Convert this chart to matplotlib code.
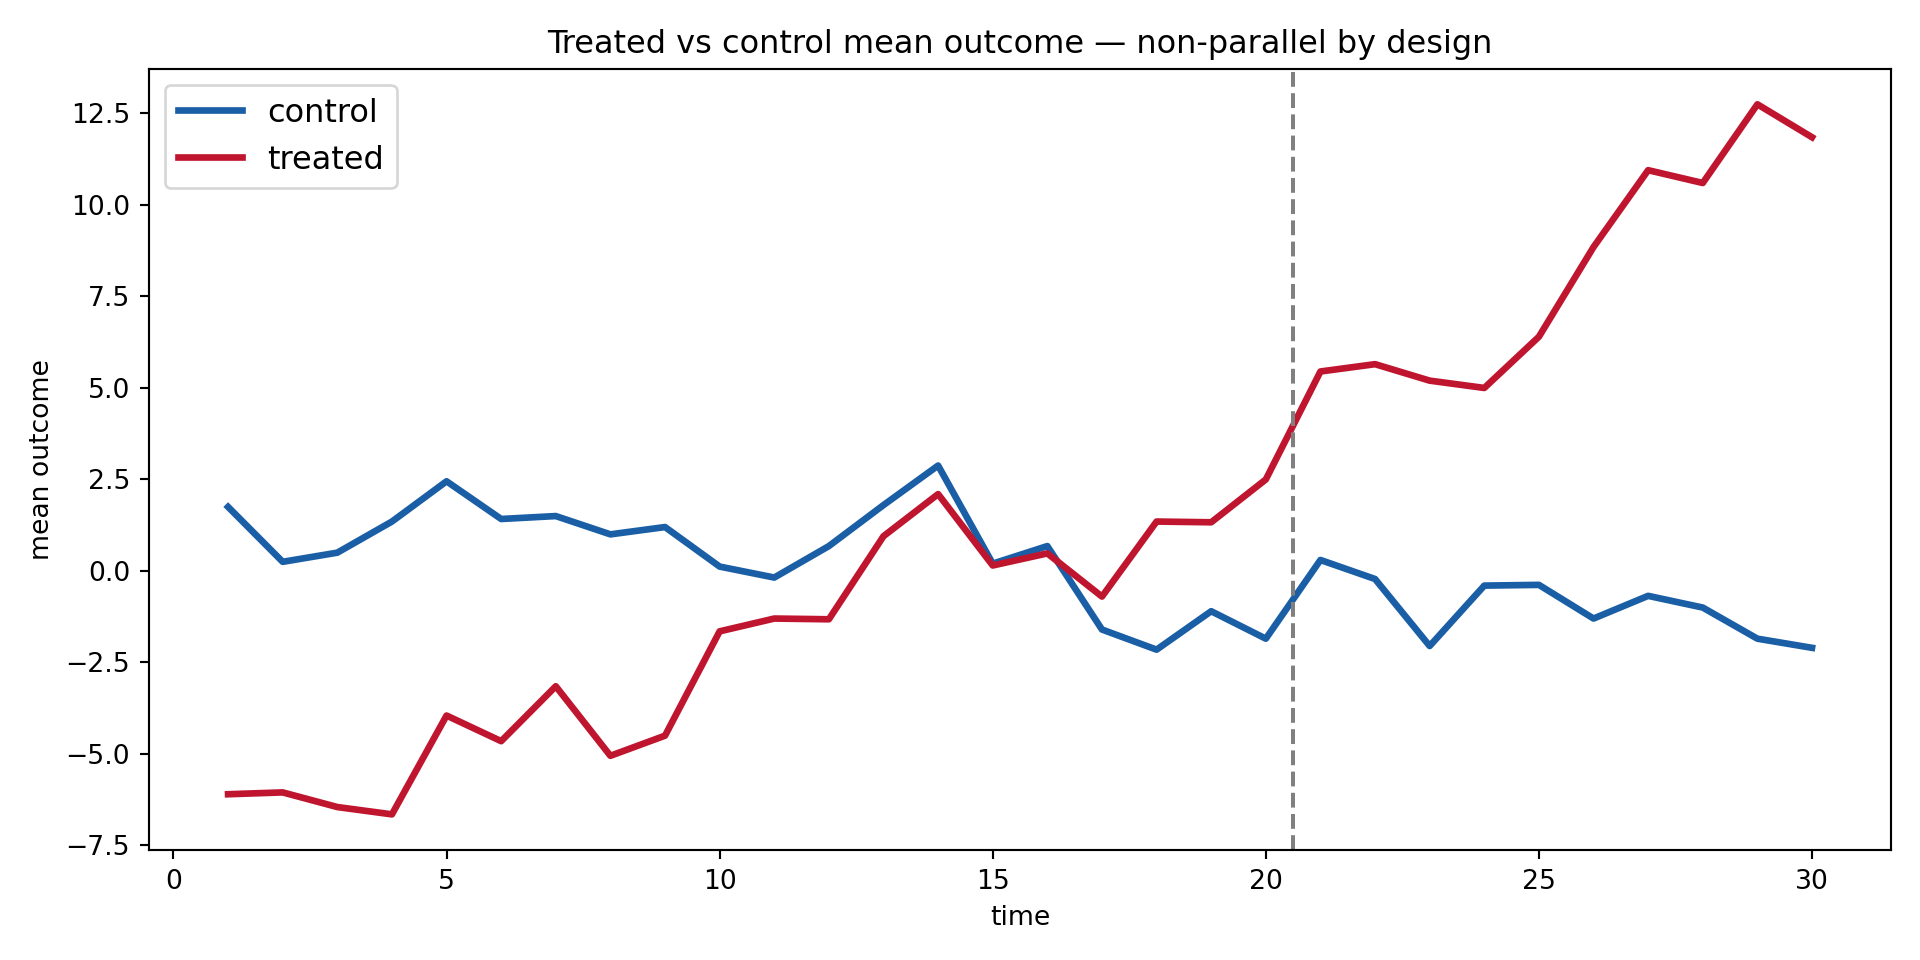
import numpy as np
import matplotlib
matplotlib.use('Agg')
import matplotlib.pyplot as plt

time = list(range(1, 31))
control = [1.75, 0.25, 0.5, 1.35, 2.45, 1.42, 1.5, 1.0, 1.2, 0.12,
           -0.18, 0.68, 1.8, 2.88, 0.2, 0.68, -1.6, -2.15, -1.1, -1.85,
           0.3, -0.22, -2.05, -0.4, -0.38, -1.3, -0.68, -1.0, -1.85, -2.1]
treated = [-6.1, -6.05, -6.45, -6.65, -3.95, -4.65, -3.15, -5.05, -4.5, -1.65,
           -1.3, -1.32, 0.95, 2.1, 0.15, 0.48, -0.7, 1.35, 1.33, 2.5,
           5.45, 5.65, 5.2, 5.0, 6.4, 8.85, 10.95, 10.6, 12.75, 11.85]
treatment_start = 20.5

fig, ax = plt.subplots(figsize=(10, 5), dpi=192)
ax.plot(time, control, color='#1a5ea6', lw=2.5, label='control')
ax.plot(time, treated, color='#c0152f', lw=2.5, label='treated')
ax.axvline(treatment_start, color='gray', ls='--', lw=1.5)
ax.set_title('Treated vs control mean outcome — non-parallel by design')
ax.set_xlabel('time')
ax.set_ylabel('mean outcome')
ax.legend(loc='upper left', fontsize=12)
fig.tight_layout()
fig.savefig('out.png')
